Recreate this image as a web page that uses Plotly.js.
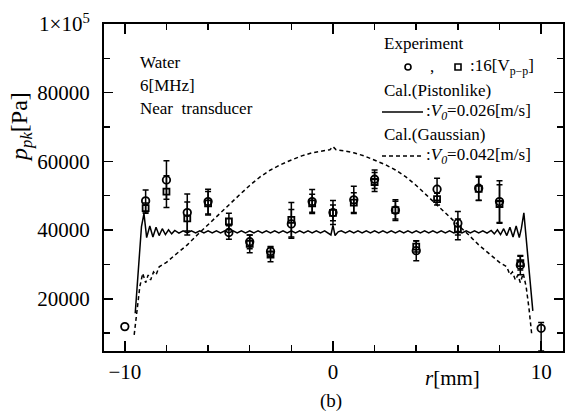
<!DOCTYPE html>
<html>
<head>
<meta charset="utf-8">
<script src="https://cdn.plot.ly/plotly-3.0.1.min.js"></script>
<style>
  html, body { margin: 0; padding: 0; background: #fff; }
  #chart { width: 565px; height: 412px; }
</style>
</head>
<body>
<div id="chart"></div>
<script>
// Radial positions of the measurements [mm]
const rPts = [-10, -9, -8, -7, -6, -5, -4, -3, -2, -1, 0, 1, 2, 3, 4, 5, 6, 7, 8, 9, 10];

// Measured peak-to-peak pressure, circles [Pa]
const pCircle = [11900, 48500, 54600, 45100, 48300, 39300, 36600, 33800, 41800, 48300, 45100,
                 48800, 54800, 45800, 34000, 51900, 42000, 52200, 48300, 29800, 11400];
const errCircleUp = [NaN, 3200, 5600, 5400, 3600, 2000, 2000, 1400, 4200, 3500, 3500,
                     4000, 2700, 3000, 2900, 3200, 3400, 3500, 6100, 2800, 1700];
const errCircleDown = [NaN, 3200, 5600, 5400, 3600, 2000, 2000, 1400, 4200, 3500, 3500,
                       4000, 2700, 3000, 2900, 3200, 3400, 3500, 6100, 2800, 6600];

// Measured peak-to-peak pressure, squares [Pa]
const pSquare = [null, 46400, 51200, 43400, 47800, 42500, 36000, 32900, 43000, 47800, 45000,
                 48000, 54000, 45800, 35200, 49000, 40200, 52000, 47600, 30400, null];
const errSquare = [NaN, 1500, 4600, 4800, 3400, 2400, 2600, 2100, 5000, 2600, 2300,
                   2900, 2800, 2600, 1600, 1700, 3000, 3400, 5600, 2000, NaN];

// Calculated profile, pistonlike source
const rPiston = [-9.5, -9.35, -9.2, -9.08, -8.95, -8.8, -8.65, -8.5, -8.35, -8.2, -8.05, -7.9, -7.75, -7.6, -7.4, -7.2,
  -7.0, -6.8, -6.6, -6.4, -6.2, -6.0, -5.8, -5.6, -5.4, -5.2, -5.0, -4.8, -4.6, -4.4, -4.2, -4.0, -3.8,
  -3.6, -3.4, -3.2, -3.0, -2.8, -2.6, -2.4, -2.2, -2.0, -1.8, -1.6, -1.4, -1.2, -1.0, -0.8, -0.6, -0.4,
  -0.25, -0.1, 0, 0.1, 0.25,
  0.4, 0.6, 0.8, 1.0, 1.2, 1.4, 1.6, 1.8, 2.0, 2.2, 2.4, 2.6, 2.8, 3.0, 3.2, 3.4, 3.6, 3.8, 4.0, 4.2,
  4.4, 4.6, 4.8, 5.0, 5.2, 5.4, 5.6, 5.8, 6.0, 6.2, 6.4, 6.6, 6.8, 7.0,
  7.2, 7.4, 7.6, 7.75, 7.9, 8.05, 8.2, 8.35, 8.5, 8.65, 8.8, 8.95, 9.05, 9.17, 9.35, 9.6];
const pPiston = [15800, 29400, 41000, 44800, 37800, 41200, 38000, 40800, 38400, 40400, 38700, 40100, 38900, 39900, 39100, 39800,
  39200, 39800, 39200, 39800, 39200, 39800, 39200, 39800, 39200, 39800, 39200, 39800, 39200, 39800, 39200, 39800, 39200,
  39800, 39200, 39800, 39200, 39800, 39200, 39800, 39200, 39800, 39200, 39800, 39200, 39800, 39200, 39800, 39200, 39800,
  39300, 38600, 41400, 38400, 39500,
  39800, 39200, 39800, 39200, 39800, 39200, 39800, 39200, 39800, 39200, 39800, 39200, 39800, 39200, 39800, 39200, 39800, 39200, 39800, 39200,
  39800, 39200, 39800, 39200, 39800, 39200, 39800, 39200, 39800, 39200, 39800, 39200, 39800, 39200,
  39800, 39100, 39900, 38900, 40100, 38700, 40400, 38400, 40800, 38000, 41200, 37800, 40500, 45000, 34000, 16500];

// Calculated profile, Gaussian source
const rGauss = [-9.55, -9.42, -9.28, -9.14, -9.0, -8.88, -8.76, -8.62, -8.5, -8.35, -8.0, -7.5, -7.0, -6.5, -6.0,
  -5.5, -5.0, -4.5, -4.0, -3.5, -3.0, -2.5, -2.0, -1.5, -1.0, -0.5, -0.15, 0, 0.15, 0.5, 1.0, 1.5, 2.0,
  2.5, 3.0, 3.5, 4.0, 4.5, 5.0, 5.5, 6.0, 6.5, 7.0, 7.5, 8.0, 8.35, 8.5, 8.62, 8.76, 8.88, 9.0, 9.14,
  9.28, 9.42, 9.55];
const pGauss = [9500, 17000, 23500, 27400, 24700, 26900, 25500, 27800, 27000, 29300, 30600, 33200, 35700, 38700, 41500,
  44500, 47200, 50200, 53000, 55500, 57500, 59100, 60400, 61600, 62500, 63100, 63400, 64300, 63400, 63100, 62500, 61600, 60400,
  59100, 57500, 55500, 53000, 50200, 47200, 44500, 41500, 38700, 35700, 33200, 30600, 29300, 27000, 27800, 25500, 26900, 24700, 27400,
  23500, 17000, 9500];

const serif = 'Liberation Serif, Times New Roman, serif';

// plot area in pixels: left 104, right 563, top 24, bottom 351
const L = 104, R = 563, T = 24, B = 351;
const px = x => (x - L) / (R - L);
const py = y => (B - y) / (B - T);

const traces = [
  {
    x: rPiston, y: pPiston, mode: 'lines', type: 'scatter',
    line: { color: '#000', width: 1.5 }, hoverinfo: 'skip'
  },
  {
    x: rGauss, y: pGauss, mode: 'lines', type: 'scatter',
    line: { color: '#000', width: 1.5, dash: '4px,3px' }, hoverinfo: 'skip'
  },
  {
    x: rPts, y: pSquare, mode: 'markers', type: 'scatter',
    marker: { symbol: 'square-open', size: 6, color: '#000', line: { width: 1.8, color: '#000' } },
    error_y: { type: 'data', array: errSquare, visible: true, color: '#000', thickness: 1.5, width: 3 }
  },
  {
    x: rPts, y: pCircle, mode: 'markers', type: 'scatter',
    marker: { symbol: 'circle-open', size: 7.5, color: '#000', line: { width: 1.8, color: '#000' } },
    error_y: { type: 'data', symmetric: false, array: errCircleUp, arrayminus: errCircleDown,
               visible: true, color: '#000', thickness: 1.5, width: 3 }
  }
];

const txt = (x, y, text, size, anchor) => ({
  xref: 'paper', yref: 'paper', x: px(x), y: py(y), text: text, showarrow: false,
  xanchor: anchor || 'left', yanchor: 'middle', font: { family: serif, size: size, color: '#000' }
});

const annotations = [
  txt(138, 62, 'Water', 17),
  txt(138, 85, '6[MHz]', 17),
  txt(138, 108, 'Near  transducer', 17),
  txt(382, 43, 'Experiment', 17),
  txt(428, 66, ',', 17),
  txt(468, 67, ':16[V<sub>p\u2212p</sub>]', 17),
  txt(382, 90, 'Cal.(Pistonlike)', 17),
  txt(424, 112, ':<i>V<sub>0</sub></i>=0.026[m/s]', 17),
  txt(382, 134, 'Cal.(Gaussian)', 17),
  txt(424, 156, ':<i>V<sub>0</sub></i>=0.042[m/s]', 17),
  // axis titles
  Object.assign(txt(21, 127, '<i>p<sub>pk</sub></i>[Pa]', 24, 'center'), { textangle: -90 }),
  txt(452, 378, '<i>r</i>[mm]', 21, 'center'),
  txt(331, 401, '(b)', 19, 'center')
];

const shapes = [
  // legend symbols
  { type: 'circle', xref: 'paper', yref: 'paper', x0: px(405), x1: px(411), y0: py(70), y1: py(64),
    line: { color: '#000', width: 1.6 } },
  { type: 'rect', xref: 'paper', yref: 'paper', x0: px(455), x1: px(461), y0: py(70), y1: py(64),
    line: { color: '#000', width: 1.6 } },
  { type: 'line', xref: 'paper', yref: 'paper', x0: px(382), x1: px(423), y0: py(112), y1: py(112),
    line: { color: '#000', width: 1.5 } },
  { type: 'line', xref: 'paper', yref: 'paper', x0: px(382), x1: px(423), y0: py(156), y1: py(156),
    line: { color: '#000', width: 1.5, dash: '4px,3px' } }
];

const layout = {
  width: 565, height: 412,
  margin: { l: L, r: 565 - R, t: T, b: 412 - B, pad: 0 },
  paper_bgcolor: '#fff', plot_bgcolor: '#fff',
  showlegend: false,
  font: { family: serif, size: 21, color: '#000' },
  xaxis: {
    range: [-11, 11.05], showgrid: false, zeroline: false,
    showline: true, linecolor: '#000', linewidth: 2, mirror: 'allticks',
    ticks: 'inside', ticklen: 10, tickwidth: 1.5, tickcolor: '#000',
    tickvals: [-10, 0, 10], ticktext: ['\u221210', '0', '10'],
    tickfont: { family: serif, size: 21, color: '#000' },
    ticklabelstandoff: 1,
    minor: { tick0: 0, dtick: 2, ticks: 'inside', ticklen: 6, tickwidth: 1.5, tickcolor: '#000', showgrid: false }
  },
  yaxis: {
    range: [4800, 100000], showgrid: false, zeroline: false,
    showline: true, linecolor: '#000', linewidth: 2, mirror: 'allticks',
    ticks: 'inside', ticklen: 9, tickwidth: 1.5, tickcolor: '#000',
    tickvals: [20000, 40000, 60000, 80000, 100000],
    ticktext: ['20000', '40000', '60000', '80000', '1\u00d710<sup>5</sup>'],
    tickfont: { family: serif, size: 21, color: '#000' },
    ticklabelstandoff: 8,
    minor: { tick0: 0, dtick: 10000, ticks: 'inside', ticklen: 6, tickwidth: 1.5, tickcolor: '#000', showgrid: false }
  },
  annotations: annotations,
  shapes: shapes
};

Plotly.newPlot('chart', traces, layout, { staticPlot: true, displayModeBar: false });
</script>
</body>
</html>
